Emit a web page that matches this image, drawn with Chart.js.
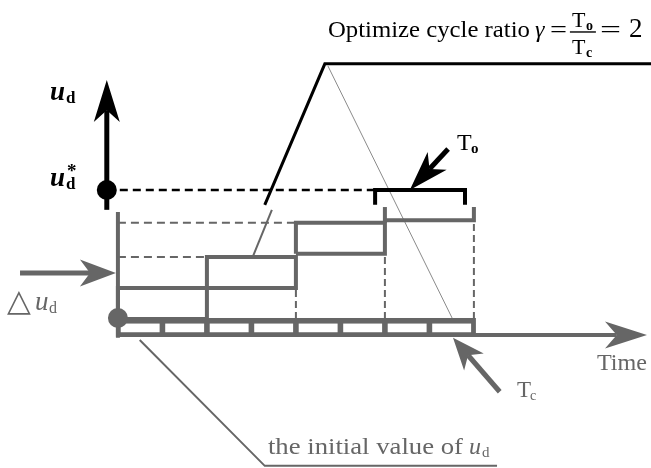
<!DOCTYPE html>
<html><head><meta charset="utf-8">
<script src="https://cdn.jsdelivr.net/npm/chart.js@4/dist/chart.umd.min.js"></script>
<style>html,body{margin:0;padding:0;background:#fff;overflow:hidden}canvas{display:block}</style>
</head><body><canvas id="c" width="651" height="468"></canvas>
<script>
// ---- data (time in control cycles Tc, value in increments of Δu_d) ----
const cycleEdges = [0, 1, 2, 3, 4, 5, 6, 7, 8];
const holdStart  = [0, 2, 4, 6];
const holdEnd    = [2, 4, 6, 8];
const holdLow    = [0, 1, 2.1, 3.18];
const holdHigh   = [1, 2, 3.1, 3.18];
const uStar      = 4.16;          // target value u_d*
const uStarTime  = -0.25;         // position of the u_d axis
const bracketTo  = [5.78, 7.8];   // optimisation window To
const tickTop    = 3.61;
const axisTop    = 3.45;
const axisBottom = -0.61;
const timeAxisU  = -0.52;
const timeAxisTip = 11.89;

const GREY = '#666666';
const SERIF = '"Liberation Serif","DejaVu Serif",serif';

const P = (t, u) => ({x: t, y: u});
function line(points, color, width, dash) {
  return {data: points.map(p => P(p[0], p[1])), showLine: true, pointRadius: 0,
    borderColor: color, borderWidth: width, borderDash: dash || [], tension: 0,
    fill: false, borderCapStyle: 'butt', borderJoinStyle: 'miter'};
}

const datasets = [];
// dots
datasets.push({data: [P(uStarTime, uStar)], pointRadius: 10, pointBackgroundColor: '#000', pointBorderWidth: 0, showLine: false});
datasets.push({data: [P(0, 0.03)], pointRadius: 10, pointBackgroundColor: GREY, pointBorderWidth: 0, showLine: false});
// hold steps (first three closed boxes)
for (let i = 0; i < 3; i++) {
  const s = holdStart[i], e = holdEnd[i], lo = holdLow[i], hi = holdHigh[i];
  datasets.push(line([[s, lo], [e, lo], [e, hi], [s, hi], [s, lo]], GREY, 4));
}
// last step drawn as open bracket with ticks
datasets.push(line([[holdStart[3], holdHigh[2]], [holdStart[3], tickTop]], GREY, 4));
datasets.push(line([[holdStart[3], holdHigh[3]], [holdEnd[3], holdHigh[3]], [holdEnd[3], tickTop]], GREY, 4));
// dashed drops to the time axis
datasets.push(line([[holdEnd[1], 0], [holdEnd[1], holdLow[1]]], GREY, 2, [7, 4]));
datasets.push(line([[holdEnd[2], 0], [holdEnd[2], holdLow[2]]], GREY, 2, [7, 4]));
datasets.push(line([[holdEnd[3], 0], [holdEnd[3], holdHigh[3]]], GREY, 2, [7, 4]));
// dashed reference levels
datasets.push(line([[0, holdHigh[1]], [holdStart[1], holdHigh[1]]], GREY, 2, [8, 5]));
datasets.push(line([[0, holdHigh[2]], [holdStart[2], holdHigh[2]]], GREY, 2, [8, 5]));
// left grey axis
datasets.push(line([[0, axisTop], [0, axisBottom]], GREY, 4));
// target level dashed
datasets.push(line([[uStarTime, uStar], [bracketTo[0], uStar]], '#000', 2.5, [8, 5]));
// To bracket
datasets.push(line([[bracketTo[0], 3.68], [bracketTo[0], uStar], [bracketTo[1], uStar], [bracketTo[1], 3.68]], '#000', 4));
// leader lines
datasets.push(line([[3.30, 3.68], [4.65, 8.23], [11.98, 8.23]], '#000', 3));
datasets.push(line([[4.72, 8.16], [7.51, 0.03]], '#8a8a8a', 1));
datasets.push(line([[3.46, 3.52], [3.03, 2.0]], GREY, 2));
datasets.push(line([[0.49, -0.68], [3.30, -4.74], [8.52, -4.74]], GREY, 2));

function arrow(ctx, x1, y1, x2, y2, color, w, len, half) {
  const dx = x2 - x1, dy = y2 - y1, L = Math.hypot(dx, dy);
  const ux = dx / L, uy = dy / L, px = -uy, py = ux;
  const bx = x2 - ux * len, by = y2 - uy * len;
  const nx = x2 - ux * len * 0.72, ny = y2 - uy * len * 0.72;
  ctx.save();
  ctx.strokeStyle = color; ctx.fillStyle = color; ctx.lineWidth = w; ctx.lineCap = 'butt';
  ctx.beginPath(); ctx.moveTo(x1, y1); ctx.lineTo(nx, ny); ctx.stroke();
  ctx.beginPath(); ctx.moveTo(x2, y2);
  ctx.lineTo(bx + px * half, by + py * half);
  ctx.lineTo(nx, ny);
  ctx.lineTo(bx - px * half, by - py * half);
  ctx.closePath(); ctx.fill();
  ctx.restore();
}
function txt(ctx, s, x, y, size, style, color, width, family) {
  ctx.save();
  ctx.font = `${style || ''} ${size}px ${family || SERIF}`;
  ctx.fillStyle = color || '#000';
  ctx.textBaseline = 'alphabetic'; ctx.textAlign = 'left';
  const w = ctx.measureText(s).width;
  ctx.translate(x, y);
  if (width) ctx.scale(width / w, 1);
  ctx.fillText(s, 0, 0);
  ctx.restore();
  return width || w;
}

const deco = {
  id: 'deco',
  beforeDatasetsDraw(chart) {
    const ctx = chart.ctx, X = v => chart.scales.x.getPixelForValue(v), Y = v => chart.scales.y.getPixelForValue(v);
    ctx.save();
    ctx.fillStyle = GREY;
    const x0 = X(cycleEdges[0]) - 2, x1 = X(cycleEdges[cycleEdges.length - 1]) + 2;
    ctx.fillRect(x0, Y(0.03), x1 - x0, Y(-0.58) - Y(0.03));
    ctx.fillStyle = '#fff';
    for (let i = 0; i < cycleEdges.length - 1; i++) {
      const a = X(cycleEdges[i]) + 2.8, b = X(cycleEdges[i + 1]) - 2.8;
      ctx.fillRect(a, Y(-0.15), b - a, Y(-0.43) - Y(-0.15));
    }
    ctx.restore();
  },
  afterDatasetsDraw(chart) {
    const ctx = chart.ctx, X = v => chart.scales.x.getPixelForValue(v), Y = v => chart.scales.y.getPixelForValue(v);
    // arrows
    arrow(ctx, X(0), Y(timeAxisU), X(timeAxisTip), Y(timeAxisU), GREY, 4, 42, 13.5);
    arrow(ctx, X(uStarTime), Y(3.52), X(uStarTime), Y(7.71), '#000', 5, 42, 13);
    arrow(ctx, X(-2.2), Y(1.48), X(-0.045), Y(1.48), GREY, 5, 36, 13.5);
    arrow(ctx, X(7.42), Y(5.48), X(6.56), Y(uStar), '#000', 5, 40, 13);
    arrow(ctx, X(8.58), Y(-2.35), X(7.53), Y(-0.61), GREY, 5, 32, 13);
    // title
    let tx = X(4.719), ty = Y(9.097);
    txt(ctx, 'Optimize cycle ratio', tx, ty, 24, '', '#000', 202);
    txt(ctx, 'γ', tx + 207, ty, 24, 'italic', '#000');
    txt(ctx, '=', tx + 222, ty, 24, '', '#000', 17);
    ctx.save(); ctx.strokeStyle = '#000'; ctx.lineWidth = 1.4;
    ctx.beginPath(); ctx.moveTo(tx + 242, ty - 5); ctx.lineTo(tx + 268, ty - 5); ctx.stroke(); ctx.restore();
    txt(ctx, 'T', tx + 244, ty - 10, 22, '', '#000');
    txt(ctx, 'o', tx + 258, ty - 7, 14, 'bold', '#000');
    txt(ctx, 'T', tx + 244, ty + 17, 22, '', '#000');
    txt(ctx, 'c', tx + 258, ty + 20, 14, 'bold', '#000');
    txt(ctx, '=', tx + 272, ty, 24, '', '#000', 21);
    txt(ctx, '2', tx + 301, ty, 27, '', '#000');
    // u_d labels
    let lx = X(-1.528), ly = Y(7.065);
    txt(ctx, 'u', lx, ly, 27, 'italic bold', '#000');
    txt(ctx, 'd', lx + 16, ly + 3, 17, 'bold', '#000');
    ly = Y(4.29);
    txt(ctx, 'u', lx, ly, 27, 'italic bold', '#000');
    txt(ctx, 'd', lx + 16, ly + 3, 17, 'bold', '#000');
    txt(ctx, '*', lx + 17, ly - 9, 19, 'bold', '#000');
    // Δu_d
    lx = X(-2.494); ly = Y(0.29);
    txt(ctx, '△', lx, ly + 1, 31, '', GREY, null, '"DejaVu Sans",sans-serif');
    txt(ctx, 'u', lx + 28, ly, 27, 'italic', GREY);
    txt(ctx, 'd', lx + 42, ly + 3, 16, '', GREY);
    // To
    lx = X(7.618); ly = Y(5.452);
    txt(ctx, 'T', lx, ly, 24, '', '#000');
    txt(ctx, 'o', lx + 14, ly + 3, 15, 'bold', '#000');
    // Tc
    lx = X(8.966); ly = Y(-2.516);
    txt(ctx, 'T', lx, ly, 23, '', GREY);
    txt(ctx, 'c', lx + 13, ly + 3, 14, '', GREY);
    // Time
    txt(ctx, 'Time', X(10.764), Y(-1.645), 23, '', GREY, 50);
    // initial value
    lx = X(3.371); ly = Y(-4.355);
    txt(ctx, 'the initial value of', lx, ly, 24, '', GREY, 195);
    txt(ctx, 'u', lx + 201, ly, 24, 'italic', GREY);
    txt(ctx, 'd', lx + 214, ly + 3, 15, '', GREY);
  }
};

new Chart(document.getElementById('c'), {
  type: 'scatter',
  data: {datasets},
  options: {
    responsive: false, animation: false, devicePixelRatio: 1,
    layout: {padding: 0, autoPadding: false},
    plugins: {legend: {display: false}, tooltip: {enabled: false}},
    scales: {
      x: {type: 'linear', min: -2.65, max: 11.98, display: false},
      y: {type: 'linear', min: -4.81, max: 10.29, display: false}
    },
    elements: {point: {hoverRadius: 0}}
  },
  plugins: [deco]
});
</script></body></html>
